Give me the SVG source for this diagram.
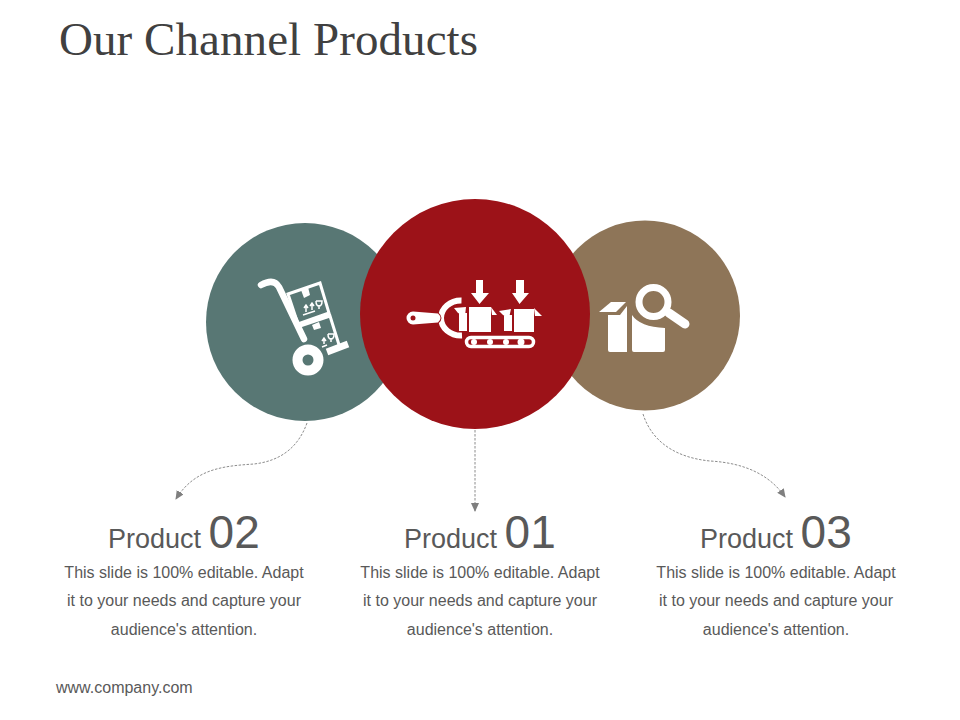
<svg xmlns="http://www.w3.org/2000/svg" width="960" height="720" viewBox="0 0 960 720">
<style>
.t{font-family:"Liberation Sans",Arial,sans-serif;fill:#595959}
.b{font-size:16px;text-anchor:middle}
.p{font-size:27px}
.n{font-size:46px}
.c{fill:none;stroke:#7f7f7f;stroke-width:.9;stroke-dasharray:2.500 1.500}
.w{fill:#fff}
.s{fill:none;stroke:#fff}
</style>
<defs>
<marker id="a" markerUnits="userSpaceOnUse" markerWidth="10" markerHeight="10" refX="8" refY="4" orient="auto"><path d="M0 0L9 4L0 8Z" fill="#7f7f7f"/></marker>
</defs>
<rect width="960" height="720" fill="#fff"/>
<text x="59" y="55" font-family="'Liberation Serif',serif" font-size="47" textLength="419" fill="#404040" id="title">Our Channel Products</text>
<g id="connectors">
<path class="c" marker-end="url(#a)" d="M307 423C298 448 280 461 254 464C225 466 195 468 176 499"/>
<path class="c" marker-end="url(#a)" d="M475 430V511"/>
<path class="c" marker-end="url(#a)" d="M643 414C653 445 680 458 710 461C745 463 770 475 785 497"/>
</g>
<g id="node-02">
<circle cx="305" cy="322" r="99" fill="#587774"/>
<path class="s" stroke-width="6.500" stroke-linecap="round" d="M261 285C268 281 275 280 279 287L304 339"/>
<path class="s" stroke-width="3" d="M288 294L320 283L329 313L298 324ZM300 326L330 316L340 348"/>
<path class="s" stroke-width="7" d="M327 352L348 344"/>
<path class="w" d="M301 290l7-3 2 8-6 3ZM312 325l7-3 2 6-7 2Z"/>
<path class="s" stroke-width="1.500" d="M303 315l12-4M306 312v-6M304 308l2-3 2 3M312 310v-6M310 306l2-3 2 3M319 309v-4M316 301h6q0 5-3 5t-3-5M322 347l5-2M324 344v-5M322 341l2-3 2 3M331 342v-4M328 334h6q0 5-3 5t-3-5"/>
<circle class="s" cx="308" cy="360" r="10.500" stroke-width="10"/>
</g>
<g id="node-03">
<circle cx="645" cy="315.500" r="95" fill="#8e7558"/>
<circle class="s" cx="653.500" cy="302" r="14.500" stroke-width="7"/>
<path class="s" stroke-width="9" stroke-linecap="round" d="M669 313L685 324"/>
<path class="w" d="M608 315H620L627 306V352H610Q608 352 608 350Z"/>
<path class="w" d="M599 312L611 302H626L616 312Z"/>
<path class="w" d="M632 315Q640 327 665 328V350Q665 352 663 352H634Q632 352 632 350Z"/>
</g>
<g id="node-01">
<circle cx="475" cy="314" r="115" fill="#9c1218"/>
<path class="s" stroke-width="6" d="M461.500 300.500A20 17.500 0 0 0 441 318A20 17.500 0 0 0 462 335.500"/>
<path class="w" stroke="#9c1218" stroke-width="2" paint-order="stroke" d="M413 311.500L438 313.500Q443 318 438 322.500L413 324.500A6.500 6.500 0 0 1 413 311.500Z"/>
<circle cx="413" cy="318" r="2.500" fill="#9c1218"/>
<path class="w" d="M476 280H483V293H489L479.500 304L471 293H476Z"/>
<path class="w" d="M516 280H524V293H529L519.500 304L512 293H516Z"/>
<path class="w" d="M469 307H491V332H469ZM459 313.500L467 313V331H459ZM454 308L466 307L465 316L458 313ZM491 307L497 315H492Z"/>
<path class="w" d="M514 309H534V332H514ZM504 315H512V331H504ZM499 311L511 309L509 318L503 315ZM534 308L542 316H535Z"/>
<rect class="s" x="466.500" y="337.500" width="67" height="9" rx="4.500" stroke-width="3.500"/>
<g class="w"><circle cx="474" cy="342" r="3"/><circle cx="490" cy="342" r="3"/><circle cx="506" cy="342" r="3"/><circle cx="521" cy="342" r="3.500"/></g>
</g>
<g id="text-02">
<text class="t" x="108" y="548"><tspan class="p">Product </tspan><tspan class="n">02</tspan></text>
<text class="t b" x="184" y="578">This slide is 100% editable. Adapt</text>
<text class="t b" x="184" y="606">it to your needs and capture your</text>
<text class="t b" x="184" y="635">audience's attention.</text>
</g>
<g id="text-01">
<text class="t" x="404" y="548"><tspan class="p">Product </tspan><tspan class="n">01</tspan></text>
<text class="t b" x="480" y="578">This slide is 100% editable. Adapt</text>
<text class="t b" x="480" y="606">it to your needs and capture your</text>
<text class="t b" x="480" y="635">audience's attention.</text>
</g>
<g id="text-03">
<text class="t" x="700" y="548"><tspan class="p">Product </tspan><tspan class="n">03</tspan></text>
<text class="t b" x="776" y="578">This slide is 100% editable. Adapt</text>
<text class="t b" x="776" y="606">it to your needs and capture your</text>
<text class="t b" x="776" y="635">audience's attention.</text>
</g>
<text class="t" x="56" y="693" font-size="16" id="footer">www.company.com</text>
</svg>
